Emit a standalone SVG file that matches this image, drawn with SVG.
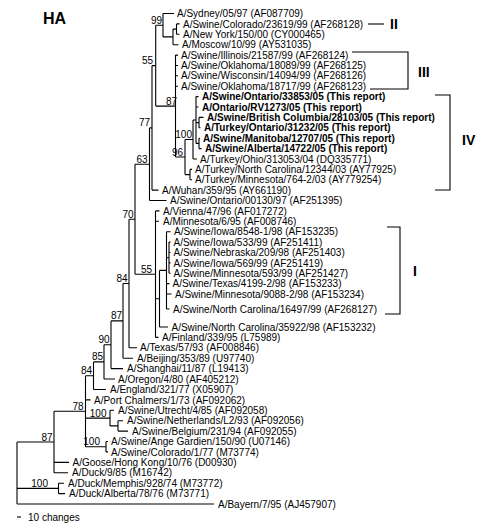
<svg xmlns="http://www.w3.org/2000/svg" width="480" height="530" viewBox="0 0 480 530">
<style>
text{font-family:"Liberation Sans",Arial,sans-serif;font-size:10px;fill:#000}
.b{font-weight:bold}
.bs{text-anchor:end}
.cl{font-weight:bold;font-size:14px}
.ttl{font-weight:bold;font-size:16px}
#connectors path{fill:none;stroke:#000;stroke-width:1.1}
</style>
<rect width="480" height="530" fill="#fff"/>
<text class="ttl" x="43" y="24">HA</text>
<g id="connectors">
<path d="M17,442V504M17,442H54M17,488.4H58.5M17,504H214"/>
<path d="M54,411.2V472.8M54,411.2H85.5M54,462.4H69M54,472.8H68"/>
<path d="M58.5,483.2V493.6M58.5,483.2H64M58.5,493.6H65"/>
<path d="M85.5,375.7V446.7M85.5,375.7H93.5M85.5,399.9H90.5M85.5,418.1H110M85.5,446.7H106"/>
<path d="M93.5,361.9V389.5M93.5,361.9H104M93.5,389.5H106"/>
<path d="M104,344.8V379M104,344.8H111M104,379H115"/>
<path d="M111,320.9V368.6M111,320.9H123M111,368.6H123"/>
<path d="M123,283.5V358.2M123,283.5H129M123,358.2H133"/>
<path d="M129,219.2V347.8M129,219.2H135M129,347.8H137"/>
<path d="M135,164.2V274.2M135,164.2H149.5M135,274.2H155.5"/>
<path d="M149.5,127.9V200.5M149.5,127.9H152M149.5,200.5H166.5"/>
<path d="M152,65.6V190.1M152,65.6H155.7M152,190.1H158.5"/>
<path d="M155.7,25.2V106.1M155.7,25.2H163M155.7,106.1H175.5"/>
<path d="M163,13.5V36.9M163,13.5H174M163,36.9H173"/>
<path d="M173,29.1V44.7M173,29.1H176.5M173,44.7H178.5"/>
<path d="M176.5,23.9V34.3M176.5,23.9H179.5M176.5,34.3H179.5"/>
<path d="M175.5,55.1V157M175.5,55.1H178M175.5,65.5H178M175.5,75.8H178M175.5,86.2H178M175.5,157H185"/>
<path d="M185,139.5V174.6M185,139.5H193M185,174.6H190"/>
<path d="M193,120V159M193,120H196M193,159H197"/>
<path d="M196,96.6V143.4M196,96.6H198.5M196,107H198.5M196,122.6H199M196,143.4H199"/>
<path d="M199,117.4V127.8M199,117.4H203.5M199,127.8H200.5"/>
<path d="M199,138.2V148.6M199,138.2H200M199,148.6H201.5"/>
<path d="M190,169.4V179.7M190,169.4H192M190,179.7H192"/>
<path d="M155.5,210.9V337.4M155.5,210.9H159.5M155.5,221.3H159M155.5,298.7H159.5M155.5,337.4H158.5"/>
<path d="M159.5,270.4V327M159.5,270.4H166.5M159.5,327H168"/>
<path d="M166.5,231.7V309M166.5,231.7H170.5M166.5,257.7H169M166.5,283.6H169.5M166.5,294H171.5M166.5,309H169.5"/>
<path d="M169,242.1V273.3M169,242.1H170.5M169,252.5H170.5M169,262.9H170.5M169,273.3H170.5"/>
<path d="M110,410.3V425.9M110,410.3H114M110,425.9H118"/>
<path d="M118,420.7V431.1M118,420.7H123M118,431.1H128"/>
<path d="M106,441.5V451.9M106,441.5H108M106,451.9H108"/>
<path d="M17,517H21"/>
<path d="M368,24H384"/>
<path d="M352,52H408V89H370"/>
<path d="M435,95H450V190H435"/>
<path d="M387,227H400V314H385"/>
</g>
<g id="support">
<text class="bs" x="162" y="23.7">99</text>
<text class="bs" x="153" y="64">55</text>
<text class="bs" x="177" y="104.6">87</text>
<text class="bs" x="150" y="126.4">77</text>
<text class="bs" x="192" y="138">100</text>
<text class="bs" x="183" y="155.5">96</text>
<text class="bs" x="147.5" y="162.7">63</text>
<text class="bs" x="133.5" y="217.7">70</text>
<text class="bs" x="152" y="272.7">55</text>
<text class="bs" x="127.5" y="282">84</text>
<text class="bs" x="122" y="319.4">87</text>
<text class="bs" x="109.5" y="343.3">90</text>
<text class="bs" x="103" y="360.4">85</text>
<text class="bs" x="92" y="374.2">84</text>
<text class="bs" x="83.5" y="409.7">78</text>
<text class="bs" x="106.5" y="416.6">100</text>
<text class="bs" x="100" y="445.2">100</text>
<text class="bs" x="52.5" y="440.5">87</text>
<text class="bs" x="48" y="486.9">100</text>
</g>
<g id="clades">
<text class="cl" x="390" y="29">II</text>
<text class="cl" x="418" y="77">III</text>
<text class="cl" x="462" y="145">IV</text>
<text class="cl" x="413" y="276">I</text>
</g>
<g id="n01"><text x="177" y="17.1">A/Sydney/05/97 (AF087709)</text></g>
<g id="n02"><text x="183" y="27.5">A/Swine/Colorado/23619/99 (AF268128)</text></g>
<g id="n03"><text x="183" y="37.9">A/New York/150/00 (CY000465)</text></g>
<g id="n04"><text x="182" y="48.3">A/Moscow/10/99 (AY531035)</text></g>
<g id="n05"><text x="181" y="58.7">A/Swine/Illinois/21587/99 (AF268124)</text></g>
<g id="n06"><text x="181" y="69.1">A/Swine/Oklahoma/18089/99 (AF268125)</text></g>
<g id="n07"><text x="181" y="79.4">A/Swine/Wisconsin/14094/99 (AF268126)</text></g>
<g id="n08"><text x="181" y="89.8">A/Swine/Oklahoma/18717/99 (AF268123)</text></g>
<g id="n09"><text class="b" x="202" y="100.2">A/Swine/Ontario/33853/05 (This report)</text></g>
<g id="n10"><text class="b" x="202" y="110.6">A/Ontario/RV1273/05 (This report)</text></g>
<g id="n11"><text class="b" x="207" y="121">A/Swine/British Columbia/28103/05 (This report)</text></g>
<g id="n12"><text class="b" x="204" y="131.4">A/Turkey/Ontario/31232/05 (This report)</text></g>
<g id="n13"><text class="b" x="203" y="141.8">A/Swine/Manitoba/12707/05 (This report)</text></g>
<g id="n14"><text class="b" x="205" y="152.2">A/Swine/Alberta/14722/05 (This report)</text></g>
<g id="n15"><text x="200" y="162.6">A/Turkey/Ohio/313053/04 (DQ335771)</text></g>
<g id="n16"><text x="195" y="173">A/Turkey/North Carolina/12344/03 (AY77925)</text></g>
<g id="n17"><text x="195" y="183.3">A/Turkey/Minnesota/764-2/03 (AY779254)</text></g>
<g id="n18"><text x="162" y="193.7">A/Wuhan/359/95 (AY661190)</text></g>
<g id="n19"><text x="170" y="204.1">A/Swine/Ontario/00130/97 (AF251395)</text></g>
<g id="n20"><text x="163" y="214.5">A/Vienna/47/96 (AF017272)</text></g>
<g id="n21"><text x="163" y="224.9">A/Minnesota/6/95 (AF008746)</text></g>
<g id="n22"><text x="174" y="235.3">A/Swine/Iowa/8548-1/98 (AF153235)</text></g>
<g id="n23"><text x="173.5" y="245.7">A/Swine/Iowa/533/99 (AF251411)</text></g>
<g id="n24"><text x="173.5" y="256.1">A/Swine/Nebraska/209/98 (AF251403)</text></g>
<g id="n25"><text x="173.5" y="266.5">A/Swine/Iowa/569/99 (AF251419)</text></g>
<g id="n26"><text x="173.5" y="276.9">A/Swine/Minnesota/593/99 (AF251427)</text></g>
<g id="n27"><text x="172.5" y="287.2">A/Swine/Texas/4199-2/98 (AF153233)</text></g>
<g id="n28"><text x="175" y="297.6">A/Swine/Minnesota/9088-2/98 (AF153234)</text></g>
<g id="n29"><text x="173" y="312.6">A/Swine/North Carolina/16497/99 (AF268127)</text></g>
<g id="n30"><text x="171.5" y="330.6">A/Swine/North Carolina/35922/98 (AF153232)</text></g>
<g id="n31"><text x="162" y="341">A/Finland/339/95 (L75989)</text></g>
<g id="n32"><text x="140" y="351.4">A/Texas/57/93 (AF008846)</text></g>
<g id="n33"><text x="137" y="361.8">A/Beijing/353/89 (U97740)</text></g>
<g id="n34"><text x="127" y="372.2">A/Shanghai/11/87 (L19413)</text></g>
<g id="n35"><text x="118" y="382.6">A/Oregon/4/80 (AF405212)</text></g>
<g id="n36"><text x="110" y="393.1">A/England/321/77 (X05907)</text></g>
<g id="n37"><text x="94" y="403.5">A/Port Chalmers/1/73 (AF092062)</text></g>
<g id="n38"><text x="118" y="413.9">A/Swine/Utrecht/4/85 (AF092058)</text></g>
<g id="n39"><text x="127" y="424.3">A/Swine/Netherlands/L2/93 (AF092056)</text></g>
<g id="n40"><text x="132" y="434.7">A/Swine/Belgium/231/94 (AF092055)</text></g>
<g id="n41"><text x="111" y="445.1">A/Swine/Ange Gardien/150/90 (U07146)</text></g>
<g id="n42"><text x="111" y="455.5">A/Swine/Colorado/1/77 (M73774)</text></g>
<g id="n43"><text x="72.5" y="466">A/Goose/Hong Kong/10/76 (D00930)</text></g>
<g id="n44"><text x="72" y="476.4">A/Duck/9/85 (M16742)</text></g>
<g id="n45"><text x="68" y="486.8">A/Duck/Memphis/928/74 (M73772)</text></g>
<g id="n46"><text x="69" y="497.2">A/Duck/Alberta/78/76 (M73771)</text></g>
<g id="n47"><text x="218" y="507.6">A/Bayern/7/95 (AJ457907)</text></g>
<g id="scale"><text x="28" y="520.6">10 changes</text></g>
</svg>
